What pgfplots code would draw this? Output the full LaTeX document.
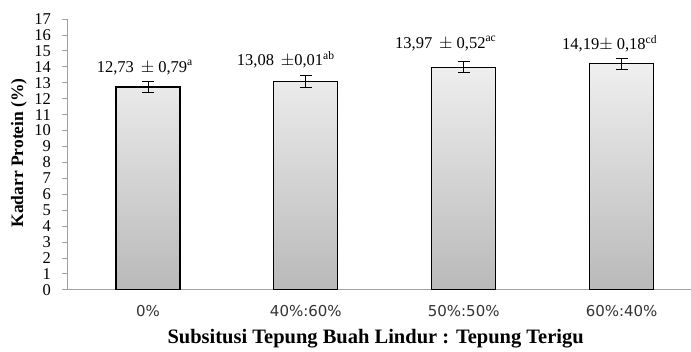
\documentclass[border=0pt]{standalone}
\usepackage{fontspec}
\setmainfont{Liberation Serif}
\newfontfamily\dejavu{DejaVu Sans}
\usepackage{pgfplots}
\pgfplotsset{compat=1.18}
\definecolor{axgray}{HTML}{A0A0A0}
\definecolor{bartop}{HTML}{EFEFEF}
\definecolor{barbot}{HTML}{B9B9B9}
\begin{document}
\begin{tikzpicture}
\begin{axis}[
  at={(0,0)}, anchor=south west,
  scale only axis,
  width=624pt, height=271pt,
  xmin=-0.513, xmax=3.437,
  ymin=0, ymax=17,
  ytick={0,1,...,17},
  xtick={0,1,2,3},
  xticklabels={0\%,40\%:60\%,50\%:50\%,60\%:40\%},
  axis x line*=bottom,
  axis y line*=left,
  axis line style={axgray, line width=0.8pt},
  y tick style={axgray, line width=0.8pt},
  x tick style={draw=none},
  tick align=outside,
  major tick length=5pt,
  /pgf/number format/assume math mode=true,
  yticklabel style={font=\fontsize{16.5}{17}\selectfont, inner sep=0pt, xshift=-11pt},
  xticklabel style={font=\dejavu\fontsize{15}{16}\selectfont, text=black!80, inner sep=0pt, yshift=-10pt},
  clip=false,
]
\addplot[ybar, bar width=64pt, draw=black, line width=1.2pt, top color=bartop, bottom color=barbot,
  error bars/.cd, y dir=both, y explicit,
  error bar style={black, line width=0.9pt},
  error mark options={rotate=90, mark size=6pt, black, line width=0.9pt}]
  coordinates {
  (0,12.73) +- (0,0.35)
  (1,13.08) +- (0,0.35)
  (2,13.97) +- (0,0.35)
  (3,14.19) +- (0,0.35)
  };
\node[font=\fontsize{16.5}{17}\selectfont] at (axis cs:-0.02,13.95) {12,73 \,$\pm$ 0,79\textsuperscript{a}};
\node[font=\fontsize{16.5}{17}\selectfont] at (axis cs:0.873,14.45) {13,08 \,$\pm$0,01\textsuperscript{ab}};
\node[font=\fontsize{16.5}{17}\selectfont] at (axis cs:1.886,15.45) {13,97 \,$\pm$ 0,52\textsuperscript{ac}};
\node[font=\fontsize{16.5}{17}\selectfont] at (axis cs:2.924,15.45) {14,19$\pm$ 0,18\textsuperscript{cd}};
\node[font=\bfseries\fontsize{17.5}{18}\selectfont, rotate=90, anchor=center] at ([xshift=-48pt]axis description cs:0,0.5055) {Kadarr Protein (\%)};
\node[font=\bfseries\fontsize{20.5}{21}\selectfont, anchor=base] at ([yshift=-54pt]axis description cs:0.495,0) {Subsitusi Tepung Buah Lindur : Tepung Terigu};
\end{axis}
\path[use as bounding box] (-67pt,-55pt) rectangle (624pt,290pt);
\end{tikzpicture}
\end{document}
